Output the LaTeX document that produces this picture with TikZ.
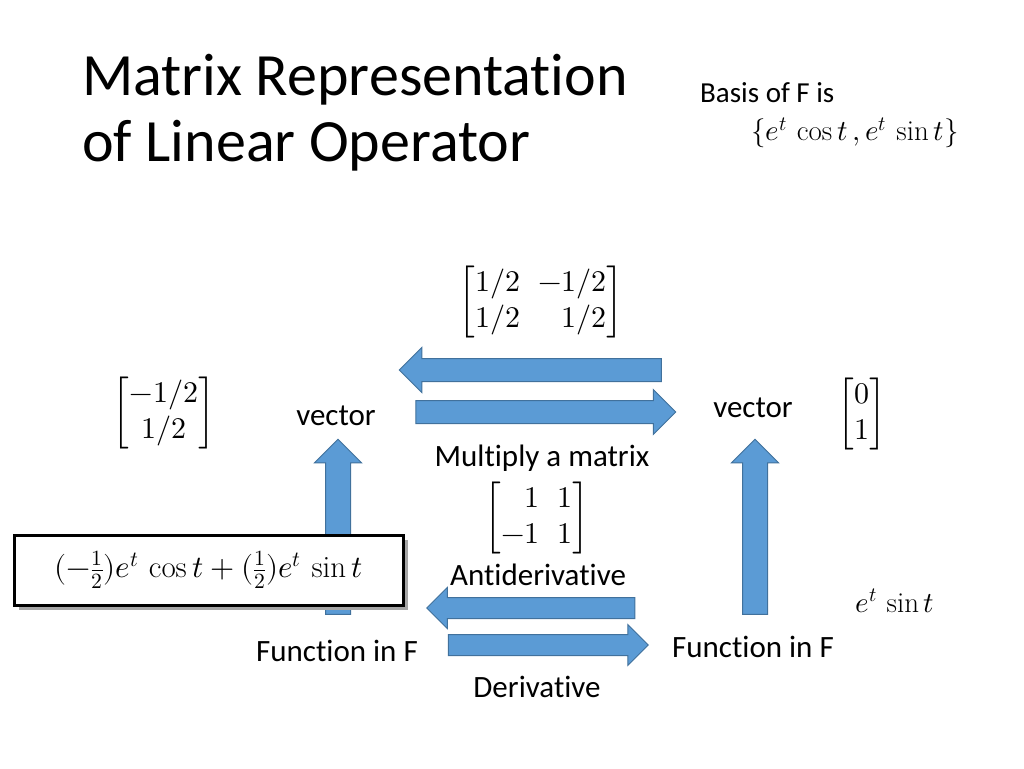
\documentclass[tikz,border=0pt]{standalone}
\usepackage{amsmath}
\usepackage{unicode-math}
\setmainfont{Carlito}[Ligatures={NoCommon,NoRequired,NoContextual}]
\setmathfont{Latin Modern Math}
\setmathrm{Latin Modern Roman}
\usetikzlibrary{shapes.arrows}
\definecolor{ab}{RGB}{91,155,213}
\definecolor{abd}{RGB}{65,113,156}
\begin{document}
\begin{tikzpicture}[x=1pt,y=-1pt,
 barrow/.style={single arrow, fill=ab, draw=abd, line width=1pt, inner sep=11pt, single arrow head extend=11pt, single arrow head indent=0pt},
 lbl/.style={font=\fontsize{31}{34}\selectfont, inner sep=0pt},
 mtx/.style={inner sep=0pt, font=\fontsize{30}{36}\selectfont}]
\useasboundingbox (0,0) rectangle (1024,768);
\node[anchor=west, align=left, font=\fontsize{60}{66}\selectfont, inner sep=0pt] (title) at (82,113) {Matrix Representation\\of Linear Operator};
\node[anchor=west, font=\fontsize{29}{32}\selectfont, inner sep=0pt] (basis) at (700,93) {Basis of F is};
\node[inner sep=0pt, font=\fontsize{29}{32}\selectfont] (bm) at (855,133) {$\{e^t\,\cos t\,,e^t\,\sin t\}$};
\node[mtx] (M1) at (541,302) {$\begin{bmatrix}1/2 & \;-1/2\\ 1/2 & \;\phantom{-}1/2\end{bmatrix}$};
\node[mtx] (v1) at (164,413) {$\begin{bmatrix}-1/2\\ 1/2\end{bmatrix}$};
\node[mtx] (v2) at (862,414) {$\begin{bmatrix}0\\ 1\end{bmatrix}$};
\node[mtx] (M2) at (537,518) {$\begin{bmatrix}\phantom{-}1 & \;1\\ -1 & \;1\end{bmatrix}$};
\node[barrow, minimum height=262pt, shape border rotate=180] (a1) at (536,370) {};
\node[barrow, minimum height=260pt] (a2) at (540,412) {};
\node[barrow, inner sep=12pt, minimum height=175pt, shape border rotate=90] (a3) at (338,533) {};
\node[barrow, inner sep=12pt, minimum height=175pt, shape border rotate=90] (a4) at (755,533) {};
\node[barrow, inner sep=10pt, single arrow head extend=10pt, minimum height=208pt, shape border rotate=180] (a5) at (536,608) {};
\node[barrow, inner sep=10pt, single arrow head extend=10pt, minimum height=200pt] (a6) at (543,645) {};
\node[lbl] (vec1) at (336,416) {vector};
\node[lbl] (vec2) at (753,408) {vector};
\node[lbl] (mm) at (542,458) {Multiply a matrix};
\node[lbl] (anti) at (538,575) {Antiderivative};
\node[lbl] (f1) at (337,651) {Function in F};
\node[lbl] (f2) at (753,647) {Function in F};
\node[lbl] (der) at (537,687) {Derivative};
\fill[gray!70] (19,540) rectangle (408,610);
\node[draw=black, line width=3pt, fill=white, minimum width=389pt, minimum height=70pt, inner sep=0pt, font=\fontsize{31}{34}\selectfont] (box) at (208.5,570) {$(-\tfrac12)e^t\,\cos t+(\tfrac12)e^t\,\sin t$};
\node[inner sep=0pt, font=\fontsize{29}{32}\selectfont] (es) at (895,601) {$e^t\,\sin t$};
\end{tikzpicture}
\end{document}
